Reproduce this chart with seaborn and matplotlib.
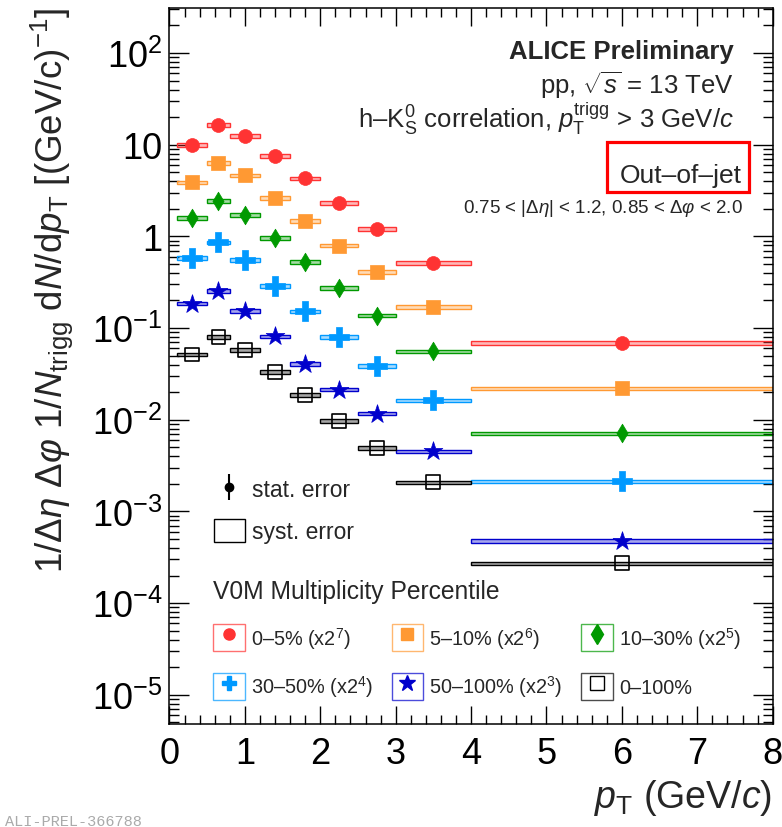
import numpy as np
import pandas as pd
import seaborn as sns
import matplotlib.pyplot as plt
from matplotlib.patches import Patch, Rectangle
from matplotlib.lines import Line2D
from matplotlib.colors import to_rgba
from matplotlib.ticker import MultipleLocator, LogLocator, NullFormatter

# pT bins (GeV/c)
bin_edges = [0.1, 0.5, 0.8, 1.2, 1.6, 2.0, 2.5, 3.0, 4.0, 8.0]

classes = ["0-5", "5-10", "10-30", "30-50", "50-100", "0-100"]
legend_labels = [
    "0–5% (x2$^{7}$)", "5–10% (x2$^{6}$)", "10–30% (x2$^{5}$)",
    "30–50% (x2$^{4}$)", "50–100% (x2$^{3}$)", "0–100%",
]

# scaled per-trigger yields
yield_0_5 = [9.9, 16.4, 12.4, 7.5, 4.3, 2.32, 1.20, 0.51, 0.069]
yield_5_10 = [3.89, 6.32, 4.64, 2.62, 1.48, 0.794, 0.407, 0.169, 0.0220]
yield_10_30 = [1.59, 2.42, 1.71, 0.955, 0.527, 0.275, 0.137, 0.0556, 0.00711]
yield_30_50 = [0.579, 0.86, 0.555, 0.289, 0.152, 0.0798, 0.0388, 0.0163, 0.00213]
yield_50_100 = [0.185, 0.253, 0.153, 0.081, 0.0405, 0.0213, 0.0117, 0.00453, 0.000473]
yield_0_100 = [0.0515, 0.0804, 0.0581, 0.0332, 0.0186, 0.00977, 0.00493, 0.00208, 0.000271]
syst_rel = 0.045

colors = ["#ff3333", "#ff9933", "#009900", "#0099ff", "#0000cc", "#000000"]
markers = ["o", "s", "d", "P", "*", "s"]
sizes = [100, 100, 90, 200, 200, 100]
leg_ms = [8, 9, 10, 10, 12, 10]

edges = np.array(bin_edges)
centers = 0.5 * (edges[:-1] + edges[1:])
widths = np.diff(edges)

all_yields = [yield_0_5, yield_5_10, yield_10_30, yield_30_50, yield_50_100, yield_0_100]
df = pd.concat([
    pd.DataFrame({"pt": centers, "yield": y, "cls": c})
    for c, y in zip(classes, all_yields)
], ignore_index=True)

sns.set_theme(style="ticks")
plt.rcParams["font.family"] = ["Liberation Sans", "DejaVu Sans"]
plt.rcParams["mathtext.fontset"] = "custom"
plt.rcParams["mathtext.rm"] = "Liberation Sans"
plt.rcParams["mathtext.it"] = "Liberation Sans:italic"
plt.rcParams["mathtext.bf"] = "Liberation Sans:bold"

fig = plt.figure(figsize=(7.82, 8.28), dpi=100)
ax = fig.add_axes([0.2167, 0.1244, 0.7714, 0.8647])
ax.set_yscale("log")


def ax_xy(px, py):
    # reference pixel -> axes fraction
    return ((px - 169.5) / 603.2, (725 - py) / 716)


for i, cls in enumerate(classes):
    sub = df[df["cls"] == cls]
    c = colors[i]
    # systematic boxes
    ax.bar(edges[:-1], sub["yield"].values * 2 * syst_rel,
           bottom=sub["yield"].values * (1 - syst_rel), width=widths,
           align="edge", facecolor=to_rgba(c, 0.35), edgecolor=c,
           linewidth=1.0, zorder=2)
    sns.scatterplot(data=sub, x="pt", y="yield", marker=markers[i], s=sizes[i],
                    color=c, edgecolor=c, linewidth=0.5, ax=ax, zorder=3,
                    legend=False)
    if cls == "0-100":
        coll = ax.collections[-1]
        coll.set_facecolor("none")
        coll.set_edgecolor("black")
        coll.set_linewidth(1.2)

ax.set_xlim(0, 8)
ax.set_ylim(4.8e-6, 310)

ax.set_yticks([1e-5, 1e-4, 1e-3, 1e-2, 1e-1, 1, 10, 100])
ax.set_yticklabels([r"$10^{-5}$", r"$10^{-4}$", r"$10^{-3}$", r"$10^{-2}$",
                    r"$10^{-1}$", "1", "10", r"$10^{2}$"])
ax.yaxis.set_minor_locator(LogLocator(base=10, subs=np.arange(2, 10), numticks=20))
ax.yaxis.set_minor_formatter(NullFormatter())
ax.xaxis.set_major_locator(MultipleLocator(1))
ax.xaxis.set_minor_locator(MultipleLocator(0.2))

ax.tick_params(axis="both", which="both", direction="in", top=True, right=True,
               width=1.0, colors="black")
ax.tick_params(axis="x", which="major", length=13, pad=9, labelsize=26)
ax.tick_params(axis="x", which="minor", length=6.5)
ax.tick_params(axis="y", which="major", length=14.4, pad=5, labelsize=26)
ax.tick_params(axis="y", which="minor", length=7.2)
for sp in ax.spines.values():
    sp.set_linewidth(1.1)
    sp.set_color("black")

ax.set_xlabel(r"$p_{\rm T}$ (GeV/$c$)", fontsize=27)
ax.xaxis.set_label_coords(1.0, ax_xy(0, 808)[1])
ax.xaxis.label.set_horizontalalignment("right")
ax.xaxis.label.set_verticalalignment("baseline")

ax.set_ylabel(r"$1/\mathit{\Delta}\eta\ \mathit{\Delta}\varphi\ 1/N_{\rm trigg}\ {\rm d}N/{\rm d}p_{\rm T}$ [(GeV/c)$^{-1}$]",
              fontsize=26.5)
ax.yaxis.set_label_coords(*ax_xy(52, 290))
ax.yaxis.label.set_verticalalignment("center")

# annotations
ax.text(*ax_xy(734, 59.3), "ALICE Preliminary", transform=ax.transAxes,
        ha="right", va="baseline", fontsize=18.5, fontweight="bold")
ax.text(*ax_xy(734, 94.3), r"pp, $\sqrt{s}$ = 13 TeV", transform=ax.transAxes,
        ha="right", va="baseline", fontsize=18.5)
ax.text(*ax_xy(734, 128.3),
        r"h–K$^{0}_{\rm S}$ correlation, $p_{\rm T}^{\rm trigg}$ > 3 GeV/$c$",
        transform=ax.transAxes, ha="right", va="baseline", fontsize=18.5)
x0, y1 = ax_xy(606.7, 143.3)
x1, y0 = ax_xy(749.3, 192.7)
ax.add_patch(Rectangle((x0, y0), x1 - x0, y1 - y0, transform=ax.transAxes,
                       facecolor="white", edgecolor="#ff0000", linewidth=2.3,
                       zorder=4))
ax.text(*ax_xy(741.7, 183.3), "Out–of–jet", transform=ax.transAxes,
        ha="right", va="baseline", fontsize=19, zorder=5)
ax.text(*ax_xy(743, 213.3),
        r"0.75 < |$\Delta\eta$| < 1.2, 0.85 < $\Delta\varphi$ < 2.0",
        transform=ax.transAxes, ha="right", va="baseline", fontsize=13.5)

# stat / syst legend
err_handles = [
    (Line2D([], [], ls="none", marker="|", ms=19, mew=1.5, color="black"),
     Line2D([], [], ls="none", marker="o", ms=6, color="black")),
    Patch(facecolor="none", edgecolor="black", linewidth=1.0),
]
leg1 = ax.legend(err_handles, ["stat. error", "syst. error"], loc="upper left",
                 bbox_to_anchor=ax_xy(214, 478), frameon=False, fontsize=16.5,
                 handlelength=1.35, handleheight=1.18, handletextpad=0.3,
                 labelspacing=0.75, borderpad=0, borderaxespad=0)
ax.add_artist(leg1)

# multiplicity legend (filled row-wise)
handles = []
for i in range(len(classes)):
    c = colors[i]
    mfc = "none" if classes[i] == "0-100" else c
    handles.append((
        Patch(facecolor="none", edgecolor=to_rgba(c, 0.7), linewidth=1.0),
        Line2D([], [], ls="none", marker=markers[i], ms=leg_ms[i], color=c,
               markerfacecolor=mfc, markeredgecolor=c, mew=1.0),
    ))
order = [0, 3, 1, 4, 2, 5]
ax.legend([handles[k] for k in order], [legend_labels[k] for k in order],
          ncol=3, title="V0M Multiplicity Percentile", title_fontsize=17.7,
          fontsize=14.3, alignment="left", handlelength=1.6, handleheight=1.7,
          handletextpad=0.3, columnspacing=0.95, labelspacing=1.08,
          loc="upper left", bbox_to_anchor=ax_xy(213, 580), frameon=False,
          borderpad=0, borderaxespad=0)

fig.text(0.006, 1 - 815 / 828, "ALI-PREL-366788", family="Liberation Mono",
         color="#aaaaaa", fontsize=11, va="top", ha="left")

fig.savefig("out.png", dpi=100)
